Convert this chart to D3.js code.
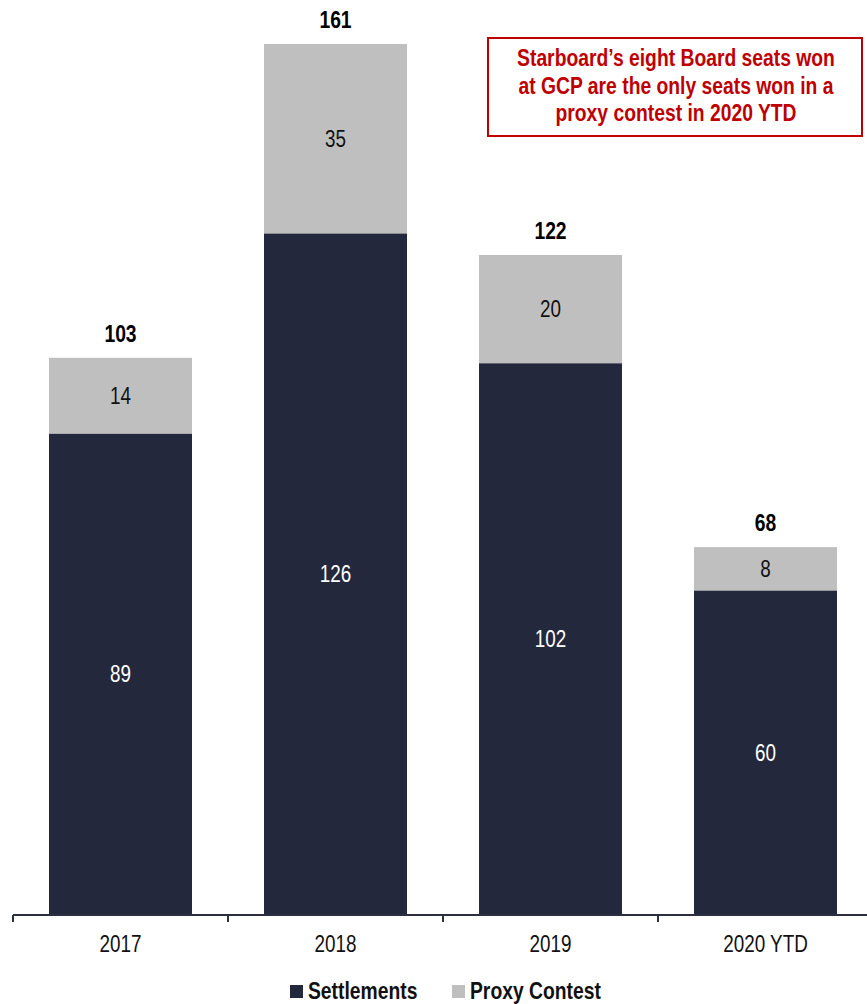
<!DOCTYPE html>
<html><head><meta charset="utf-8">
<script src="https://cdn.jsdelivr.net/npm/d3@7"></script>
<style>
html,body{margin:0;padding:0;background:#fff;}
text{font-family:"Liberation Sans Narrow","Arial Narrow","Liberation Sans",Arial,sans-serif;}
</style></head>
<body><svg id="c" width="867" height="1004"></svg>
<script>
const categories = ["2017", "2018", "2019", "2020 YTD"];
const settlements = [89, 126, 102, 60];
const proxyContest = [14, 35, 20, 8];
const totals = [103, 161, 122, 68];
const seriesNames = ["Settlements", "Proxy Contest"];
const colors = ["#24283c", "#bfbfbf"];
const annotation = ["Starboard\u2019s eight Board seats won", "at GCP are the only seats won in a", "proxy contest in 2020 YTD"];

const SX = 0.82, SXB = 0.84;
const svg = d3.select("#c");
const x = d3.scaleBand().domain(categories).range([13, 873]).paddingInner(0.335).paddingOuter(0.1675);
const y = d3.scaleLinear().domain([0, 161]).range([915, 44]);

const data = categories.map((c, i) => ({cat: c, s: settlements[i], p: proxyContest[i], t: totals[i]}));
const g = svg.append("g");

function place(sel, fx, fy, sx) {
  return sel.attr("transform", (d, i) => `translate(${fx(d, i)},${fy(d, i)}) scale(${sx},1)`);
}

g.selectAll(".s").data(data).enter().append("rect")
  .attr("x", d => x(d.cat)).attr("width", x.bandwidth())
  .attr("y", d => y(d.s)).attr("height", d => y(0) - y(d.s))
  .attr("fill", colors[0]);
g.selectAll(".p").data(data).enter().append("rect")
  .attr("x", d => x(d.cat)).attr("width", x.bandwidth())
  .attr("y", d => y(d.s + d.p)).attr("height", d => y(d.s) - y(d.s + d.p))
  .attr("fill", colors[1]);

const cx = d => x(d.cat) + x.bandwidth() / 2;
place(g.selectAll(".sl").data(data).enter().append("text"), cx, d => (y(d.s) + y(0)) / 2 + 8, SX)
  .attr("text-anchor", "middle").attr("font-size", 23).attr("fill", "#fff")
  .text(d => d.s);
place(g.selectAll(".pl").data(data).enter().append("text"), cx, d => (y(d.s) + y(d.s + d.p)) / 2 + 8, SX)
  .attr("text-anchor", "middle").attr("font-size", 23).attr("fill", "#111")
  .text(d => d.p);
place(g.selectAll(".tl").data(data).enter().append("text"), cx, d => y(d.t) - 16, SXB)
  .attr("text-anchor", "middle").attr("font-size", 23).attr("font-weight", "bold").attr("fill", "#000")
  .text(d => d.t);

// axis
const ax = svg.append("g").attr("transform", "translate(0,915)");
ax.append("line").attr("x1", 13).attr("x2", 873).attr("y1", 0).attr("y2", 0).attr("stroke", "#2b2f40").attr("stroke-width", 2);
const edges = categories.map(c => x(c) - x.step() * x.paddingInner() / 2).concat([873]);
ax.selectAll(".tk").data(edges).enter().append("line")
  .attr("x1", d => d).attr("x2", d => d).attr("y1", 0).attr("y2", 7)
  .attr("stroke", "#2b2f40").attr("stroke-width", 2);
place(ax.selectAll(".lb").data(categories).enter().append("text"), d => x(d) + x.bandwidth() / 2, () => 37, SX)
  .attr("text-anchor", "middle").attr("font-size", 23).attr("fill", "#111")
  .text(d => d);

// legend
const leg = svg.append("g");
const legItems = [{n: seriesNames[0], c: colors[0], x: 290}, {n: seriesNames[1], c: colors[1], x: 452}];
legItems.forEach(it => {
  leg.append("rect").attr("x", it.x).attr("y", 985).attr("width", 13).attr("height", 13).attr("fill", it.c);
  leg.append("text").attr("transform", `translate(${it.x + 18},999) scale(${SXB},1)`)
    .attr("font-size", 23).attr("font-weight", "bold").attr("fill", "#111").text(it.n);
});

// annotation
svg.append("rect").attr("x", 488).attr("y", 38).attr("width", 374).attr("height", 98)
  .attr("fill", "#fff").attr("stroke", "#c00000").attr("stroke-width", 2);
place(svg.selectAll(".an").data(annotation).enter().append("text"), () => 676, (d, i) => 66 + i * 27.5, SXB)
  .attr("text-anchor", "middle").attr("font-size", 23).attr("font-weight", "bold").attr("fill", "#c00000")
  .text(d => d);
</script></body></html>
